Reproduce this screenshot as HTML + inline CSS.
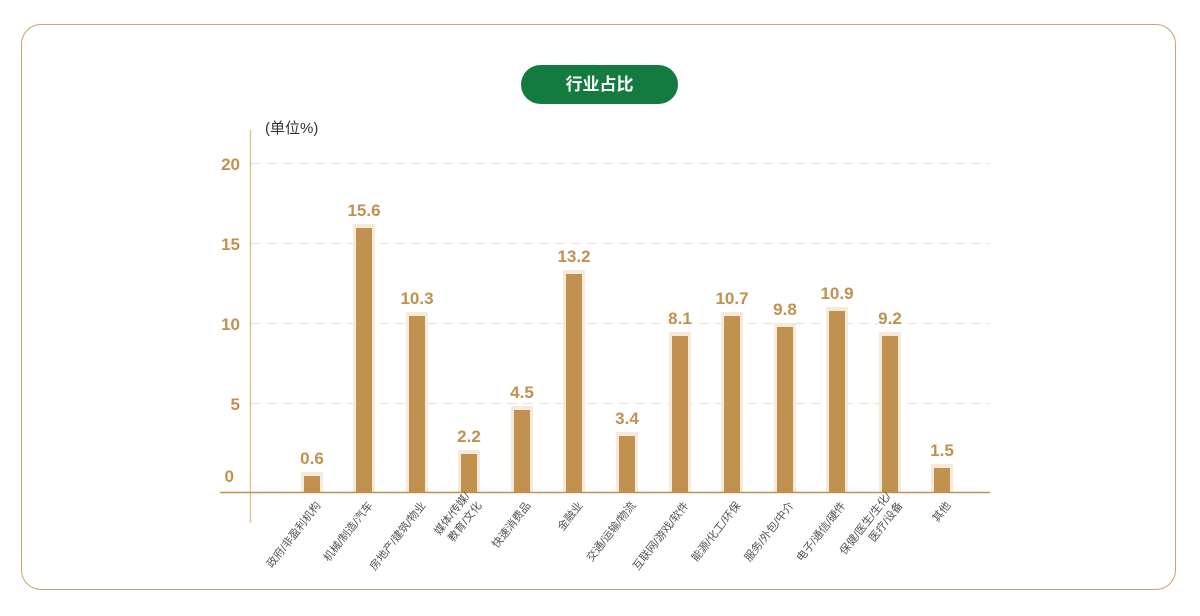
<!DOCTYPE html>
<html><head><meta charset="utf-8"><style>
html,body{margin:0;padding:0;background:#fff;}
body{width:1200px;height:616px;position:relative;overflow:hidden;font-family:"Liberation Sans","Noto Sans CJK SC",sans-serif;}
.card{position:absolute;left:21px;top:24px;width:1155px;height:566px;border:1px solid #c9a46c;border-radius:20px;box-sizing:border-box;}
.pill{position:absolute;left:521px;top:65px;width:157px;height:39px;border-radius:20px;background:#137a40;color:#fff;font-weight:bold;font-size:17px;text-align:center;line-height:39px;}
</style></head><body>
<div class="card"></div>
<div class="pill">行业占比</div>
<svg width="1200" height="616" style="position:absolute;left:0;top:0" font-family="Liberation Sans, Noto Sans CJK SC, sans-serif">
<text x="265" y="133" font-size="15" fill="#333">(单位%)</text>
<g stroke="#eee5d6" stroke-width="1.2" stroke-dasharray="10,6">
<line x1="251" y1="163.5" x2="990" y2="163.5"/>
<line x1="251" y1="243.5" x2="990" y2="243.5"/>
<line x1="251" y1="323.5" x2="990" y2="323.5"/>
<line x1="251" y1="403.5" x2="990" y2="403.5"/>
</g>
<line x1="250.5" y1="130" x2="250.5" y2="523" stroke="#dcc39c" stroke-width="1.5"/>
<g fill="#c0914f" font-size="17" font-weight="bold" text-anchor="end">
<text x="240" y="170">20</text><text x="240" y="250">15</text><text x="240" y="330">10</text><text x="240" y="410">5</text><text x="234" y="482">0</text>
</g>
<g id="bars"></g>
<line x1="220" y1="492.5" x2="990" y2="492.5" stroke="#c0914f" stroke-width="1.5"/>
<g id="labs"></g>
</svg>
<script>
var d=[[312,476,"0.6",["政府/非盈利机构"]],[364,228,"15.6",["机械/制造/汽车"]],[417,316,"10.3",["房地产/建筑/物业"]],[469,454,"2.2",["媒体/传媒/","教育/文化"]],[522,410,"4.5",["快速消费品"]],[574,274,"13.2",["金融业"]],[627,436,"3.4",["交通/运输/物流"]],[680,336,"8.1",["互联网/游戏/软件"]],[732,316,"10.7",["能源/化工/环保"]],[785,327,"9.8",["服务/外包/中介"]],[837,311,"10.9",["电子/通信/硬件"]],[890,336,"9.2",["保健/医生/生化/","医疗/设备"]],[942,468,"1.5",["其他"]]];
var ns="http://www.w3.org/2000/svg",b=document.getElementById("bars"),l=document.getElementById("labs");
function el(t,a,p){var e=document.createElementNS(ns,t);for(var k in a)e.setAttribute(k,a[k]);p.appendChild(e);return e;}
d.forEach(function(r){var x=r[0],t=r[1];
el("rect",{x:x-11,y:t-4,width:22,height:492-t+4,fill:"#f4ebdc"},b);
el("rect",{x:x-8,y:t,width:16,height:492-t,fill:"#c0914f"},b);
var tx=el("text",{x:x,y:t-12,"font-size":17,"font-weight":"bold",fill:"#c0914f","text-anchor":"middle"},b);tx.textContent=r[2];
var n=r[3].length;
var g=el("g",{transform:"translate("+(x+6+(n>1?4:0))+",503) rotate(-52)"},l);
r[3].forEach(function(s,i){var q=el("text",{x:0,y:(i-(n-1))*15+4,"font-size":11,fill:"#555","text-anchor":"end"},g);q.textContent=s;});
});
</script>
</body></html>
